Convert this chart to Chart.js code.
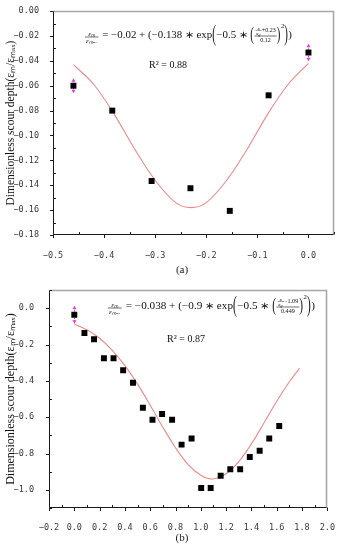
<!DOCTYPE html>
<html>
<head>
<meta charset="utf-8">
<script src="https://cdn.jsdelivr.net/npm/chart.js@4.4.1/dist/chart.umd.min.js"></script>
<style>
  body { margin: 0; width: 342px; height: 550px; background: #fff; position: relative; overflow: hidden; font-family: "Liberation Serif", serif; }
  .box { position: absolute; left: 0; width: 342px; }
  .cap { position: absolute; width: 40px; text-align: center; font-size: 11px; line-height: 13px; color: #222; }
</style>
</head>
<body>
<div class="box" style="top:0;height:262px"><canvas id="chartA"></canvas></div>
<div class="cap" style="left:162px;top:263px">(a)</div>
<div class="box" style="top:278px;height:254px"><canvas id="chartB"></canvas></div>
<div class="cap" style="left:162px;top:531px">(b)</div>
<script>
// --- (a) 測定点
const xA = [-0.46, -0.384, -0.307, -0.231, -0.154, -0.078, 0.0];
const yA = [-0.060, -0.080, -0.1366, -0.1424, -0.1606, -0.0677, -0.0333];
const errA = [0.006, 0, 0, 0, 0, 0, 0.007];
// (a) フィット曲線
const fitXA = [-0.46, -0.42, -0.38, -0.34, -0.30, -0.26, -0.23, -0.20, -0.16, -0.12, -0.08, -0.04, 0.0];
const fitYA = [-0.043, -0.059, -0.083, -0.111, -0.136, -0.154, -0.158, -0.154, -0.136, -0.111, -0.083, -0.059, -0.042];
const xTicksA = [-0.5, -0.4, -0.3, -0.2, -0.1, 0.0];
const yTicksA = [0, -0.02, -0.04, -0.06, -0.08, -0.10, -0.12, -0.14, -0.16, -0.18];

// --- (b) 測定点
const xB = [0.0, 0.08, 0.156, 0.234, 0.31, 0.386, 0.464, 0.542, 0.618, 0.694, 0.773,
            0.848, 0.927, 1.003, 1.078, 1.157, 1.233, 1.311, 1.387, 1.465, 1.541, 1.62];
const yB = [-0.036, -0.136, -0.171, -0.275, -0.275, -0.341, -0.41, -0.548, -0.614, -0.582, -0.614,
            -0.751, -0.717, -0.99, -0.99, -0.922, -0.887, -0.887, -0.819, -0.785, -0.717, -0.648];
const errB = [0.05, 0, 0, 0, 0, 0, 0, 0, 0, 0, 0, 0, 0, 0, 0, 0, 0, 0, 0, 0, 0, 0];
// (b) フィット曲線
const fitXB = [0.0, 0.1, 0.2, 0.3, 0.4, 0.5, 0.6, 0.7, 0.8, 0.9, 1.0, 1.09, 1.2, 1.3, 1.4, 1.5, 1.6, 1.7, 1.78];
const fitYB = [-0.087, -0.118, -0.165, -0.232, -0.316, -0.418, -0.534, -0.655, -0.768, -0.861, -0.920, -0.940,
               -0.911, -0.845, -0.747, -0.631, -0.512, -0.405, -0.33];
const xTicksB = [-0.2, 0.0, 0.2, 0.4, 0.6, 0.8, 1.0, 1.2, 1.4, 1.6, 1.8, 2.0];
const yTicksB = [0.0, -0.2, -0.4, -0.6, -0.8, -1.0];

const eqA = { c0: '−0.02', amp: '−0.138', shift: '+0.23', sig: '0.12', r2: 'R² = 0.88' };
const eqB = { c0: '−0.038', amp: '−0.9', shift: '−1.09', sig: '0.449', r2: 'R² = 0.87' };

const FIT_COLOR = '#ec8a8a';
const ERR_COLOR = '#e03ce0';
const TICK_FONT = { family: '"DejaVu Sans Mono", monospace', size: 8.5 };
const Y_TITLE = 'Dimensionless scour depth(ε\u2098/ε\u2098\u2090\u2093)';

// 数式を描く (分数と大きな括弧を組み立てる)
function drawEquation(ctx, left, yc, eq, targetW) {
  const main = '10px "Liberation Serif", serif';
  const small = 'italic 6.5px "Liberation Serif", serif';
  const tiny = '5.5px "Liberation Serif", serif';
  const tinyIt = 'italic 5px "Liberation Serif", serif';
  const w = (s, f) => { ctx.font = f; return ctx.measureText(s).width; };

  const text = (s, f, dy = 0) => ({
    width: w(s, f),
    draw: x => { ctx.font = f; ctx.textBaseline = 'middle'; ctx.fillText(s, x, yc + dy); }
  });
  const frac = (num, den, f) => {
    const wn = w(num, f), wd = w(den, f), W = Math.max(wn, wd) + 2;
    return {
      width: W + 1,
      draw: x => {
        const bar = yc + 2;
        ctx.font = f;
        ctx.textBaseline = 'alphabetic'; ctx.fillText(num, x + (W - wn) / 2, bar - 1.5);
        ctx.textBaseline = 'top'; ctx.fillText(den, x + (W - wd) / 2, bar + 1.2);
        ctx.fillRect(x, bar - 0.3, W, 0.6);
      }
    };
  };
  const paren = (ch, s) => ({
    width: w(ch, main) * 1.15,
    draw: x => {
      ctx.save(); ctx.translate(x, yc); ctx.scale(1, s);
      ctx.font = main; ctx.textBaseline = 'middle'; ctx.fillText(ch, 0, 0);
      ctx.restore();
    }
  });
  const inner = (() => {
    const fx = w('x', tinyIt), fg = w('x', tinyIt) + 2.5, ft = w(eq.shift, tiny), fd = w(eq.sig, tiny);
    const sw = Math.max(fx, fg) + 1;
    const numW = sw + ft;
    const W = Math.max(numW, fd) + 2;
    return {
      width: W,
      draw: x => {
        const bar = yc + 1;
        ctx.fillRect(x, bar - 0.3, W, 0.6);
        const nx = x + (W - numW) / 2, nm = bar - 5.5;
        ctx.font = tinyIt;
        ctx.textBaseline = 'alphabetic'; ctx.fillText('x', nx + (sw - fx) / 2, nm - 0.8);
        ctx.textBaseline = 'top'; ctx.fillText('x', nx + (sw - fg) / 2, nm + 0.6);
        ctx.font = 'italic 3.5px "Liberation Serif", serif';
        ctx.fillText('g', nx + (sw - fg) / 2 + fx, nm + 2.5);
        ctx.fillRect(nx, nm - 0.2, sw, 0.4);
        ctx.font = tiny; ctx.textBaseline = 'middle'; ctx.fillText(eq.shift, nx + sw, nm);
        ctx.textBaseline = 'top'; ctx.fillText(eq.sig, x + (W - fd) / 2, bar + 1.5);
      }
    };
  })();

  const items = [
    frac('εₘ', 'εₘₐₓ', small),
    text(' = ' + eq.c0 + ' + (' + eq.amp + ' ∗ exp', main),
    paren('(', 2.3),
    text('−0.5 ∗ ', main),
    paren('(', 1.8),
    inner,
    paren(')', 1.8),
    text('2', '6px "Liberation Serif", serif', -9),
    paren(')', 2.3),
    text(')', main)
  ];
  const total = items.reduce((s, it) => s + it.width, 0);
  ctx.save();
  ctx.fillStyle = '#111';
  ctx.translate(left, 0);
  ctx.scale(targetW / total, 1);
  let x = 0;
  items.forEach(it => { it.draw(x); x += it.width; });
  ctx.restore();
}

// 枠・目盛・誤差棒・数式のプラグイン
function makeDecor(cfg) {
  return {
    id: 'decor',
    beforeDatasetsDraw(chart) {
      const { ctx, scales: { x, y } } = chart;
      ctx.save();
      ctx.strokeStyle = ERR_COLOR;
      ctx.fillStyle = ERR_COLOR;
      ctx.lineWidth = 1;
      cfg.errs.forEach((e, i) => {
        if (!e) return;
        const px = Math.round(x.getPixelForValue(cfg.xs[i])) + 0.5;
        const top = y.getPixelForValue(cfg.ys[i] + e);
        const bot = y.getPixelForValue(cfg.ys[i] - e);
        ctx.setLineDash([1.5, 1]);
        ctx.beginPath(); ctx.moveTo(px, top + 2); ctx.lineTo(px, bot - 2); ctx.stroke();
        ctx.setLineDash([]);
        ctx.beginPath();
        ctx.moveTo(px, top); ctx.lineTo(px - 2, top + 3.5); ctx.lineTo(px + 2, top + 3.5); ctx.closePath();
        ctx.moveTo(px, bot); ctx.lineTo(px - 2, bot - 3.5); ctx.lineTo(px + 2, bot - 3.5); ctx.closePath();
        ctx.fill();
      });
      ctx.restore();
    },
    afterDraw(chart) {
      const { ctx, chartArea: a, scales: { x, y } } = chart;
      const L = Math.round(a.left) + 0.5, R = Math.round(a.right) - 0.5;
      const T = Math.round(a.top) + 0.5, B = Math.round(a.bottom) - 0.5;
      ctx.save();
      // 上と右の灰色の枠
      ctx.strokeStyle = '#a8a8a8';
      ctx.lineWidth = 1.6;
      ctx.beginPath(); ctx.moveTo(L, T); ctx.lineTo(R, T); ctx.lineTo(R, B); ctx.stroke();
      // 左と下の軸
      ctx.strokeStyle = '#1a1a1a';
      ctx.lineWidth = 1;
      ctx.beginPath(); ctx.moveTo(L, T); ctx.lineTo(L, B); ctx.lineTo(R, B); ctx.stroke();
      // 主目盛 (外向き) と副目盛 (内向き)
      ctx.beginPath();
      const xt = x.ticks.map(t => t.value), yt = y.ticks.map(t => t.value);
      xt.forEach(v => { const p = Math.round(x.getPixelForValue(v)) + 0.5; ctx.moveTo(p, B); ctx.lineTo(p, B + 3.5); });
      yt.forEach(v => { const p = Math.round(y.getPixelForValue(v)) + 0.5; ctx.moveTo(L, p); ctx.lineTo(L - 3.5, p); });
      const sx = xt[1] - xt[0], sy = yt[1] - yt[0];
      for (let v = xt[0] + sx / 2; v <= x.max + 1e-9; v += sx) {
        const p = Math.round(x.getPixelForValue(v)) + 0.5; ctx.moveTo(p, B); ctx.lineTo(p, B - 2.5);
      }
      for (let v = yt[0] - sy / 2; v <= y.max + 1e-9; v -= sy) {
        if (v < y.min - 1e-9) break;
        const p = Math.round(y.getPixelForValue(v)) + 0.5; ctx.moveTo(L, p); ctx.lineTo(L + 2.5, p);
      }
      for (let v = yt[0] + sy / 2; v >= y.min - 1e-9 && v <= y.max + 1e-9; v += sy) {
        const p = Math.round(y.getPixelForValue(v)) + 0.5; ctx.moveTo(L, p); ctx.lineTo(L + 2.5, p);
      }
      ctx.stroke();
      // 数式と決定係数
      drawEquation(ctx, cfg.eqLeft, cfg.eqY, cfg.eq, cfg.eqW);
      ctx.fillStyle = '#111';
      ctx.font = '10px "Liberation Serif", serif';
      ctx.textAlign = 'center';
      ctx.textBaseline = 'middle';
      ctx.fillText(cfg.eq.r2, cfg.r2X, cfg.r2Y);
      ctx.restore();
    }
  };
}

// 目盛ラベル: マイナスは見やすい記号にする
function tickLabel(v, dec) {
  const s = Math.abs(v).toFixed(dec);
  return v < -1e-9 ? '−' + s : s;
}

function makeChart(id, cfg) {
  const pts = cfg.xs.map((v, i) => ({ x: v, y: cfg.ys[i] }));
  const fit = cfg.fitX.map((v, i) => ({ x: v, y: cfg.fitY[i] }));
  return new Chart(document.getElementById(id), {
    type: 'scatter',
    data: {
      datasets: [
        {
          type: 'line', data: fit, borderColor: FIT_COLOR, borderWidth: 1.1,
          pointRadius: 0, tension: 0.35, fill: false, order: 2
        },
        {
          data: pts, pointStyle: 'rect', pointRadius: 4.2,
          backgroundColor: '#000', borderColor: '#000', borderWidth: 0, order: 1
        }
      ]
    },
    options: {
      responsive: true,
      maintainAspectRatio: false,
      animation: false,
      events: [],
      layout: { padding: cfg.padding },
      plugins: { legend: { display: false }, tooltip: { enabled: false } },
      scales: {
        x: {
          type: 'linear', min: cfg.xMin, max: cfg.xMax,
          grid: { display: false }, border: { display: false },
          afterBuildTicks: s => { s.ticks = cfg.xTicks.map(v => ({ value: v })); },
          afterFit: s => { s.height = cfg.xH; },
          ticks: { autoSkip: false, maxRotation: 0, padding: cfg.xPad, color: '#3a3a3a', font: TICK_FONT,
                   callback: v => tickLabel(v, 1) }
        },
        y: {
          type: 'linear', min: cfg.yMin, max: cfg.yMax,
          grid: { display: false }, border: { display: false },
          afterBuildTicks: s => { s.ticks = cfg.yTicks.map(v => ({ value: v })); },
          afterFit: s => { s.width = cfg.yW; },
          ticks: { autoSkip: false, padding: cfg.yPad, color: '#3a3a3a', font: TICK_FONT,
                   callback: v => tickLabel(v, cfg.yDec) },
          title: { display: true, text: Y_TITLE, color: '#111', padding: { top: 4, bottom: 0 },
                   font: { family: '"Liberation Serif", serif', size: cfg.titleSize } }
        }
      }
    },
    plugins: [makeDecor(cfg)]
  });
}

makeChart('chartA', {
  xs: xA, ys: yA, errs: errA, fitX: fitXA, fitY: fitYA,
  xTicks: xTicksA, yTicks: yTicksA, xMin: -0.5, xMax: 0.05, yMin: -0.18, yMax: 0, yDec: 2,
  padding: { left: 0, right: 8, top: 10, bottom: 0 }, yW: 53, xH: 27, xPad: 8, yPad: 6, titleSize: 11.5,
  eq: eqA, eqLeft: 85, eqY: 35, eqW: 207, r2X: 168, r2Y: 65
});

makeChart('chartB', {
  xs: xB, ys: yB, errs: errB, fitX: fitXB, fitY: fitYB,
  xTicks: xTicksB, yTicks: yTicksB, xMin: -0.2, xMax: 2.0, yMin: -1.1, yMax: 0.1, yDec: 1,
  padding: { left: 0, right: 12, top: 7, bottom: 0 }, yW: 49, xH: 24, xPad: 7, yPad: 7, titleSize: 12,
  eq: eqB, eqLeft: 108, eqY: 28, eqW: 207, r2X: 186, r2Y: 61
});
</script>
</body>
</html>
